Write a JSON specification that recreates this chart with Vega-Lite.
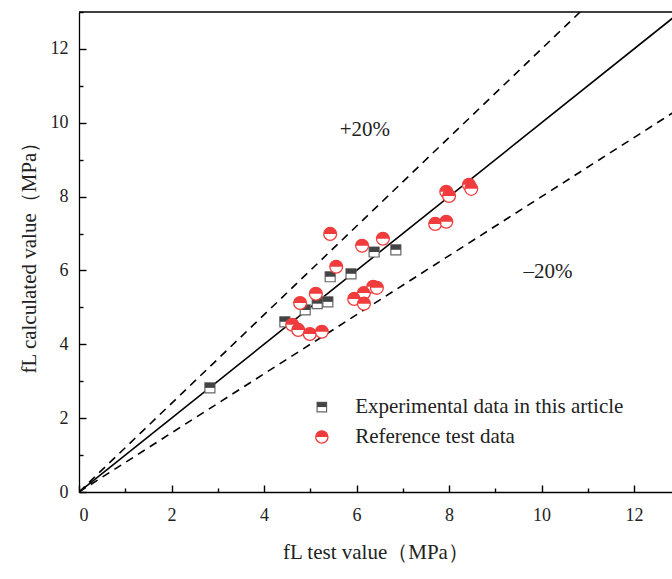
{
  "$schema": "https://vega.github.io/schema/vega-lite/v6.json",
  "width": 593,
  "height": 480,
  "autosize": {"type": "none"},
  "padding": {"left": 79, "top": 12, "right": 0, "bottom": 87},
  "background": "white",
  "config": {
    "view": {"stroke": null},
    "font": "Liberation Serif",
    "axis": {
      "grid": false,
      "domainColor": "black",
      "domainWidth": 1.3,
      "tickColor": "black",
      "tickWidth": 1.4
    }
  },
  "datasets": {
    "exp": [
      {"x": 2.83, "y": 2.82}, {"x": 4.45, "y": 4.61}, {"x": 4.89, "y": 4.93},
      {"x": 5.15, "y": 5.1}, {"x": 5.38, "y": 5.15}, {"x": 5.43, "y": 5.83},
      {"x": 5.88, "y": 5.91}, {"x": 6.38, "y": 6.5}, {"x": 6.85, "y": 6.56}
    ],
    "ref": [
      {"x": 5.43, "y": 6.99}, {"x": 6.12, "y": 6.67}, {"x": 6.57, "y": 6.86},
      {"x": 5.56, "y": 6.1}, {"x": 7.94, "y": 8.13}, {"x": 8.0, "y": 8.02},
      {"x": 8.43, "y": 8.32}, {"x": 8.48, "y": 8.21}, {"x": 7.7, "y": 7.26},
      {"x": 7.94, "y": 7.32}, {"x": 4.78, "y": 5.12}, {"x": 5.12, "y": 5.37},
      {"x": 4.61, "y": 4.53}, {"x": 4.74, "y": 4.39}, {"x": 4.99, "y": 4.28},
      {"x": 5.25, "y": 4.34}, {"x": 5.95, "y": 5.23}, {"x": 6.16, "y": 5.39},
      {"x": 6.16, "y": 5.1}, {"x": 6.36, "y": 5.56}, {"x": 6.44, "y": 5.53}
    ],
    "solid": [{"x": 0, "y": 0}, {"x": 13, "y": 13}],
    "dashed": [
      {"x": 0, "y": 0, "g": "+20%"}, {"x": 10.833, "y": 13, "g": "+20%"},
      {"x": 0, "y": 0, "g": "-20%"}, {"x": 13, "y": 10.4, "g": "-20%"}
    ],
    "top": [{"y": 13}],
    "notes": [
      {"x": 6.18, "y": 9.8, "label": "+20%"},
      {"x": 10.14, "y": 5.96, "label": "–20%"}
    ],
    "legExp": [{"x": 5.25, "y": 2.3}],
    "legRef": [{"x": 5.25, "y": 1.49}],
    "legText": [
      {"x": 5.97, "y": 2.3, "label": "Experimental data in this article"},
      {"x": 5.97, "y": 1.49, "label": "Reference test data"}
    ]
  },
  "encoding": {
    "x": {
      "field": "x",
      "type": "quantitative",
      "title": "fL test value（MPa）",
      "scale": {"domain": [0, 12.82], "nice": false, "zero": false},
      "axis": {
        "values": [0, 1, 2, 3, 4, 5, 6, 7, 8, 9, 10, 11, 12],
        "labelExpr": "datum.value % 2 === 0 ? datum.label : ''",
        "tickSize": {"condition": {"test": "datum.value % 2 === 0", "value": -7}, "value": -4},
        "labelFont": "Liberation Serif",
        "labelFontSize": 18,
        "labelColor": "#222",
        "labelPadding": 21,
        "titleFont": "Liberation Serif",
        "titleFontSize": 21,
        "titleFontWeight": "normal",
        "titleColor": "#222",
        "titlePadding": 17
      }
    },
    "y": {
      "field": "y",
      "type": "quantitative",
      "title": "fL calculated value（MPa）",
      "scale": {"domain": [0, 13], "nice": false, "zero": false},
      "axis": {
        "values": [0, 1, 2, 3, 4, 5, 6, 7, 8, 9, 10, 11, 12, 13],
        "labelExpr": "datum.value % 2 === 0 ? datum.label : ''",
        "tickSize": {"condition": {"test": "datum.value % 2 === 0", "value": -7}, "value": -4},
        "labelFont": "Liberation Serif",
        "labelFontSize": 18,
        "labelColor": "#222",
        "labelPadding": 18,
        "titleFont": "Liberation Serif",
        "titleFontSize": 21,
        "titleFontWeight": "normal",
        "titleColor": "#222",
        "titlePadding": 11
      }
    }
  },
  "layer": [
    {"data": {"name": "top"}, "mark": {"type": "rule", "color": "black", "strokeWidth": 1.3}, "encoding": {"x": null}},
    {"data": {"name": "solid"}, "mark": {"type": "line", "color": "black", "strokeWidth": 1.6, "clip": true}},
    {"data": {"name": "dashed"}, "mark": {"type": "line", "color": "black", "strokeWidth": 1.6, "strokeDash": [8, 6], "clip": true}, "encoding": {"detail": {"field": "g"}}},
    {"data": {"name": "notes"}, "mark": {"type": "text", "fontSize": 21, "color": "#222", "font": "Liberation Serif"}, "encoding": {"text": {"field": "label"}}},
    {"data": {"name": "exp"}, "mark": {"type": "point", "shape": "square", "size": 100, "filled": true, "fill": "white", "stroke": "#666", "strokeWidth": 1.2, "opacity": 1}},
    {"data": {"name": "exp"}, "mark": {"type": "point", "shape": "M-1,-1L1,-1L1,0L-1,0Z", "size": 100, "filled": true, "fill": "#444", "strokeWidth": 0, "opacity": 1}},
    {"data": {"name": "ref"}, "mark": {"type": "point", "shape": "circle", "size": 165, "filled": true, "fill": "white", "stroke": "#f03c3c", "strokeWidth": 1.3, "opacity": 1}},
    {"data": {"name": "ref"}, "mark": {"type": "point", "shape": "M-1,0A1,1 0 0,1 1,0Z", "size": 165, "filled": true, "fill": "#f03c3c", "strokeWidth": 0, "opacity": 1}},
    {"data": {"name": "legExp"}, "mark": {"type": "point", "shape": "square", "size": 90, "filled": true, "fill": "white", "stroke": "#666", "strokeWidth": 1.2, "opacity": 1}},
    {"data": {"name": "legExp"}, "mark": {"type": "point", "shape": "M-1,-1L1,-1L1,0L-1,0Z", "size": 90, "filled": true, "fill": "#444", "strokeWidth": 0, "opacity": 1}},
    {"data": {"name": "legRef"}, "mark": {"type": "point", "shape": "circle", "size": 150, "filled": true, "fill": "white", "stroke": "#f03c3c", "strokeWidth": 1.3, "opacity": 1}},
    {"data": {"name": "legRef"}, "mark": {"type": "point", "shape": "M-1,0A1,1 0 0,1 1,0Z", "size": 150, "filled": true, "fill": "#f03c3c", "strokeWidth": 0, "opacity": 1}},
    {"data": {"name": "legText"}, "mark": {"type": "text", "align": "left", "baseline": "middle", "fontSize": 21, "color": "#222", "font": "Liberation Serif"}, "encoding": {"text": {"field": "label"}}}
  ]
}
